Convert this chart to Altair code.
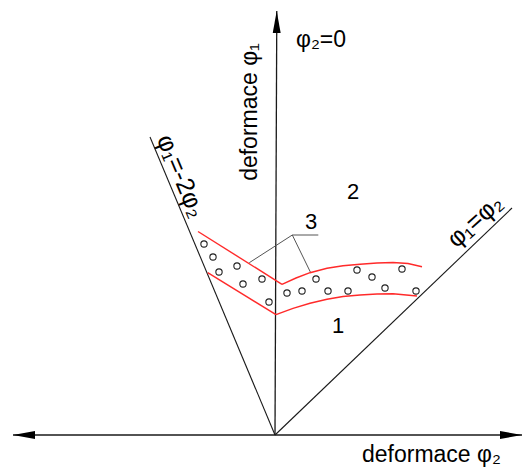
import altair as alt
import pandas as pd

# ---- values (strain units, origin at axes crossing) ----
# axes
axis_h_x = [-1.31, 1.235]
axis_h_y = [0.0, 0.0]
axis_v_x = [0.0, 0.009]
axis_v_y = [0.0, 2.12]
arrow_x = [-1.255, 1.18, 0.0085]
arrow_y = [0.0, 0.0, 2.065]
arrow_angle = [270, 90, 0]

# limit lines phi1=-2phi2 and phi1=phi2
diag_left_x = [0.0, -0.625]
diag_left_y = [0.0, 1.49]
diag_right_x = [0.0, 1.185]
diag_right_y = [0.0, 1.135]

# red band (upper / lower, each with a kink)
red_ul_x = [-0.385, 0.035]
red_ul_y = [1.0175, 0.7535]
red_ur_x = [0.035, 0.105, 0.175, 0.26, 0.34, 0.425, 0.51, 0.59, 0.665, 0.735]
red_ur_y = [0.7535, 0.785, 0.8115, 0.8335, 0.846, 0.8535, 0.86, 0.8625, 0.8575, 0.8415]
red_ll_x = [-0.3365, 0.005]
red_ll_y = [0.8115, 0.6015]
red_lr_x = [0.005, 0.09, 0.175, 0.26, 0.34, 0.425, 0.51, 0.59, 0.71]
red_lr_y = [0.6015, 0.6335, 0.6585, 0.6785, 0.6925, 0.70, 0.705, 0.7065, 0.695]

# leader lines for label 3
lead_a_x = [0.2165, 0.0865, -0.1285]
lead_a_y = [1.0, 1.0, 0.8615]
lead_b_x = [0.0865, 0.1785]
lead_b_y = [1.0, 0.8115]

# measured points
pts_x = [-0.355, -0.31, -0.28, -0.19, -0.16, -0.065, -0.03, 0.06, 0.135, 0.205,
         0.265, 0.365, 0.41, 0.485, 0.55, 0.635, 0.705]
pts_y = [0.955, 0.89, 0.815, 0.845, 0.755, 0.78, 0.665, 0.71, 0.72, 0.78,
         0.72, 0.72, 0.825, 0.79, 0.735, 0.83, 0.72]

# labels
lab_text = ["\u03c6\u2082=0", "1", "2", "3", "\u03c6\u2081=-2\u03c6\u2082", "\u03c6\u2081=\u03c6\u2082"]
lab_x = [0.23, 0.315, 0.39, 0.18, -0.47, 1.0]
lab_y = [1.975, 0.545, 1.215, 1.065, 1.295, 1.07]
lab_angle = [0, 0, 0, 0, 67, 318]
lab_size = [23, 22, 22, 22, 25, 25]

xlabel_text = ["deformace \u03c6\u2082"]
xlabel_x = [0.435]
xlabel_y = [-0.135]
ylabel_text = ["deformace \u03c6\u2081"]
ylabel_x = [-0.09]
ylabel_y = [1.615]

XDOM = [-1.335, 1.235]
YDOM = [-0.175, 2.135]

# ---- build tables ----
def seg(name, style, xs, ys):
    return [dict(seg=name, style=style, ord=i, x=a, y=b) for i, (a, b) in enumerate(zip(xs, ys))]

rows = []
rows += seg("axh", "axis", axis_h_x, axis_h_y)
rows += seg("axv", "axis", axis_v_x, axis_v_y)
rows += seg("dl", "diag", diag_left_x, diag_left_y)
rows += seg("dr", "diag", diag_right_x, diag_right_y)
rows += seg("ul", "red", red_ul_x, red_ul_y)
rows += seg("ur", "red", red_ur_x, red_ur_y)
rows += seg("ll", "red", red_ll_x, red_ll_y)
rows += seg("lr", "red", red_lr_x, red_lr_y)
rows += seg("la", "lead", lead_a_x, lead_a_y)
rows += seg("lb", "lead", lead_b_x, lead_b_y)
lines = pd.DataFrame(rows)

arrows = pd.DataFrame(dict(x=arrow_x, y=arrow_y, a=arrow_angle))
pts = pd.DataFrame(dict(x=pts_x, y=pts_y))
labs = pd.DataFrame(dict(t=lab_text, x=lab_x, y=lab_y, a=lab_angle, s=lab_size))
xl = pd.DataFrame(dict(t=xlabel_text, x=xlabel_x, y=xlabel_y))
yl = pd.DataFrame(dict(t=ylabel_text, x=ylabel_x, y=ylabel_y))

X = alt.X("x:Q", scale=alt.Scale(domain=XDOM, nice=False, zero=False), axis=None)
Y = alt.Y("y:Q", scale=alt.Scale(domain=YDOM, nice=False, zero=False), axis=None)

def line_layer(style, color, width):
    return alt.Chart(lines).transform_filter(alt.datum.style == style).mark_line(
        color=color, strokeWidth=width, clip=False
    ).encode(x=X, y=Y, detail="seg:N", order="ord:Q")

axis_l = line_layer("axis", "#1a1a1a", 1.3)
diag_l = line_layer("diag", "#1a1a1a", 1.1)
lead_l = line_layer("lead", "#555555", 1.0)
red_l = line_layer("red", "#ff2a2a", 1.4)

arrow_l = alt.Chart(arrows).mark_point(
    shape="M0,-1L0.36,1L-0.36,1Z", size=484, filled=True, color="#000000", opacity=1
).encode(x=X, y=Y, angle=alt.Angle("a:Q", scale=None))

pts_l = alt.Chart(pts).mark_point(
    shape="circle", size=40, filled=False, color="#222222", strokeWidth=1.1, opacity=1
).encode(x=X, y=Y)

lab_l = alt.Chart(labs).mark_text(
    font="Liberation Sans", align="center", baseline="middle", color="#000000"
).encode(x=X, y=Y, text="t:N", angle=alt.Angle("a:Q", scale=None), size=alt.Size("s:Q", scale=None))

xl_l = alt.Chart(xl).mark_text(
    font="Liberation Sans", fontSize=23, align="left", baseline="alphabetic", color="#000000"
).encode(x=X, y=Y, text="t:N")

yl_l = alt.Chart(yl).mark_text(
    font="Liberation Sans", fontSize=23, align="center", baseline="alphabetic", angle=270, color="#000000"
).encode(x=X, y=Y, text="t:N")

chart = alt.layer(
    axis_l, diag_l, lead_l, red_l, arrow_l, pts_l, lab_l, xl_l, yl_l
).properties(
    width=514, height=462, padding=0, autosize=alt.AutoSizeParams(type="none"),
    background="#ffffff"
).configure_view(stroke=None)

chart.save("out.html", embed_options={"renderer": "svg", "actions": False})
